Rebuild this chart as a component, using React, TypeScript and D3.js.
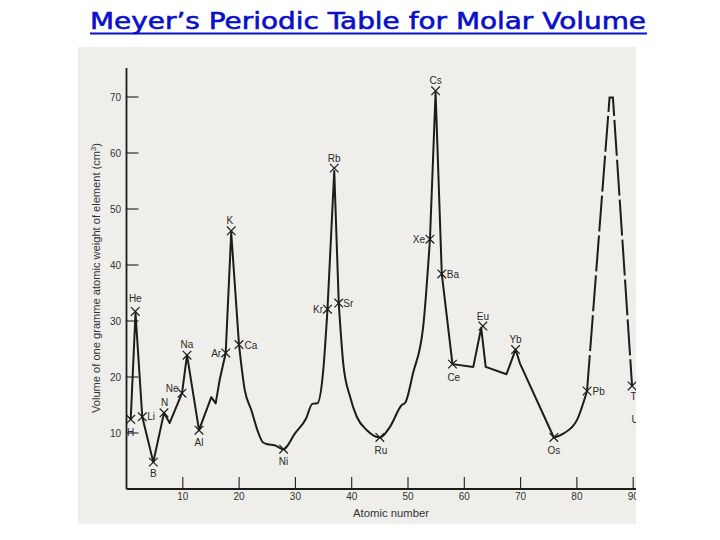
import React from "react";
import * as d3 from "d3";

// Solid curve (atomic number, molar volume cm3)
const curveZ = [0.75, 1.6, 2.8, 4.76, 6.66, 7.67, 9.86, 10.75, 12.88, 15.06, 15.84, 16.55, 17.62, 18.6, 19.98, 21.0, 22.17, 23.36, 24.25, 25.1, 26.3, 27.9, 29.9, 31.9, 33.0, 33.9, 34.9, 35.7, 36.9, 37.7, 38.5, 39.7, 40.9, 42.7, 45.0, 46.8, 48.9, 49.5, 50.9, 52.7, 53.9, 54.9, 56.0, 57.9, 61.6, 63.0, 63.8, 67.5, 69.1, 69.9, 75.9, 77.6, 80.0, 81.8];
const curveV = [12.45, 31.4, 12.9, 4.8, 13.6, 11.8, 17.1, 23.9, 10.5, 16.4, 15.3, 19.5, 24.3, 45.8, 25.8, 17.7, 14.1, 10.2, 8.3, 8.0, 7.8, 7.1, 9.9, 12.6, 15.2, 15.3, 20.7, 32.1, 56.8, 33.2, 22.4, 16.5, 12.9, 10.5, 9.2, 11.1, 15.0, 15.4, 20.7, 29.0, 44.6, 70.8, 38.4, 22.3, 21.8, 28.8, 21.8, 20.5, 24.9, 22.4, 9.2, 9.9, 12.3, 17.5];

// Dashed (conjectured) portion
const dashZ = [81.8, 85.8, 86.4, 89.8];
const dashV = [17.5, 69.9, 69.9, 18.4];

// Marked elements
const elementNames = ["H", "He", "Li", "B", "N", "Ne", "Na", "Al", "Ar", "K", "Ca", "Ni", "Kr", "Rb", "Sr", "Ru", "Xe", "Cs", "Ba", "Ce", "Eu", "Yb", "Os", "Pb", "Th", "U"];
const elementZ = [0.75, 1.56, 2.8, 4.76, 6.66, 9.86, 10.75, 12.88, 17.62, 18.6, 19.98, 27.9, 35.7, 36.9, 37.7, 45.0, 53.9, 54.9, 56.0, 57.9, 63.3, 69.1, 75.9, 81.8, 89.8, 92.0];
const elementV = [12.45, 31.7, 12.9, 4.8, 13.6, 17.1, 23.9, 10.5, 24.3, 46.1, 25.8, 7.1, 32.1, 57.3, 33.2, 9.2, 44.6, 71.1, 38.4, 22.3, 29.1, 24.9, 9.2, 17.5, 18.4, 14.5];

const xTicks = [10, 20, 30, 40, 50, 60, 70, 80, 90];
const yTicks = [10, 20, 30, 40, 50, 60, 70];

const titleText = "Meyer\u2019s Periodic Table for Molar Volume";
const xLabel = "Atomic number";
const yLabel = "Volume of one gramme atomic weight of element (cm";

// curve drawing: index ranges of the curve drawn smoothly (rest is straight segments)
const smoothRanges: [number, number][] = [[14, 27], [29, 40], [50, 53]];

// label layout: [anchor, dx, dy]
const labelLayout: Record<string, [string, number, number]> = {
  H: ["middle", 0, 13], He: ["middle", 0, -13], Li: ["start", 5, 0], B: ["middle", 0, 11],
  N: ["middle", 0.5, -10], Ne: ["end", -3.5, -5], Na: ["middle", 0, -11], Al: ["middle", 0, 12.5],
  Ar: ["end", -4.5, 1], K: ["middle", -1.5, -10.5], Ca: ["start", 5.5, 0.7], Ni: ["middle", 0, 12],
  Kr: ["end", -4.5, 0.7], Rb: ["middle", 0, -10], Sr: ["start", 4.5, 0.5], Ru: ["middle", 1, 12.7],
  Xe: ["end", -5, 0], Cs: ["middle", 0, -10], Ba: ["start", 5, 1], Ce: ["middle", 1.3, 13],
  Eu: ["middle", 0, -10], Yb: ["middle", 0, -10], Os: ["middle", 0, 12.7], Pb: ["start", 5.5, 0.7],
  Th: ["start", -1.5, 10.5], U: ["start", -13, 12],
};

export default function App() {
  const x = d3.scaleLinear().domain([0, 90]).range([126.5, 633.2]);
  const y = d3.scaleLinear().domain([0, 70]).range([489, 97]);
  const pts = curveZ.map((z, i) => [z, curveV[i]] as [number, number]);
  const lin = d3.line<[number, number]>().x(d => x(d[0])).y(d => y(d[1]));
  const smooth = d3.line<[number, number]>().x(d => x(d[0])).y(d => y(d[1])).curve(d3.curveMonotoneX);
  // build segments
  const segs: string[] = [];
  let start = 0;
  smoothRanges.forEach(([a, b]) => {
    if (a > start) segs.push(lin(pts.slice(start, a + 1)) || "");
    segs.push(smooth(pts.slice(a, b + 1)) || "");
    start = b;
  });
  if (start < pts.length - 1) segs.push(lin(pts.slice(start)) || "");
  const dashed = lin(dashZ.map((z, i) => [z, dashV[i]]) as [number, number][]) || "";
  const ink = "#1c1c1c";
  const font = "'Liberation Sans', Arial, sans-serif";
  const m = 4.3;
  return (
    <svg width={720} height={540} style={{ position: "absolute", left: 0, top: 0 }} xmlns="http://www.w3.org/2000/svg">
      <rect x={0} y={0} width={720} height={540} fill="#ffffff" />
      <text x={368} y={29} textAnchor="middle" fontFamily="'DejaVu Sans', sans-serif" fontSize={23} fill="#0a10c8" stroke="#0a10c8" strokeWidth={0.6} textLength={556} lengthAdjust="spacingAndGlyphs">{titleText}</text>
      <line x1={90} x2={647} y1={33.5} y2={33.5} stroke="#0a10c8" strokeWidth={2} />
      <defs>
        <clipPath id="scan"><rect x={78} y={47} width={558} height={477} /></clipPath>
      </defs>
      <g clipPath="url(#scan)">
        <rect x={78} y={47} width={558} height={477} fill="#efeeea" />
        {/* axes */}
        <line x1={x(0)} x2={x(0)} y1={y(0)} y2={68} stroke={ink} strokeWidth={1.8} />
        <line x1={x(0)} x2={700} y1={y(0)} y2={y(0)} stroke={ink} strokeWidth={1.8} />
        {yTicks.map(t => (
          <g key={"y" + t}>
            <line x1={x(0)} x2={x(0) + 12} y1={y(t)} y2={y(t)} stroke={ink} strokeWidth={1.1} />
            <text x={121} y={y(t)} dy="0.35em" textAnchor="end" fontFamily={font} fontSize={10} fill="#333">{t}</text>
          </g>
        ))}
        {xTicks.map(t => (
          <g key={"x" + t}>
            <line x1={x(t)} x2={x(t)} y1={y(0)} y2={y(0) - 12} stroke={ink} strokeWidth={1.1} />
            <text x={x(t)} y={500} textAnchor="middle" fontFamily={font} fontSize={10} fill="#333">{t}</text>
          </g>
        ))}
        <text x={391} y={517} textAnchor="middle" fontFamily={font} fontSize={10.5} fill="#333" textLength={76} lengthAdjust="spacingAndGlyphs">{xLabel}</text>
        <text transform="translate(100,278) rotate(-90)" textAnchor="middle" fontFamily={font} fontSize={11.1} fill="#333">
          {yLabel}<tspan fontSize={7.5} dy={-4.5}>3</tspan><tspan dy={4.5}>)</tspan>
        </text>
        {/* curve */}
        {segs.map((d, i) => (
          <path key={"s" + i} d={d} fill="none" stroke={ink} strokeWidth={2} strokeLinejoin="round" strokeLinecap="round" />
        ))}
        <path d={dashed} fill="none" stroke={ink} strokeWidth={2} strokeDasharray="36,4" />
        {/* markers and labels */}
        {elementNames.map((n, i) => {
          const cx = x(elementZ[i]);
          const cy = y(elementV[i]);
          const [anchor, dx, dy] = labelLayout[n];
          return (
            <g key={n}>
              <path d={`M${cx - m},${cy - m}L${cx + m},${cy + m}M${cx - m},${cy + m}L${cx + m},${cy - m}`} stroke={ink} strokeWidth={1.2} fill="none" />
              <text x={cx + dx} y={cy + dy} dy="0.35em" textAnchor={anchor} fontFamily={font} fontSize={10} fill="#2a2a2a">{n}</text>
            </g>
          );
        })}
      </g>
    </svg>
  );
}
